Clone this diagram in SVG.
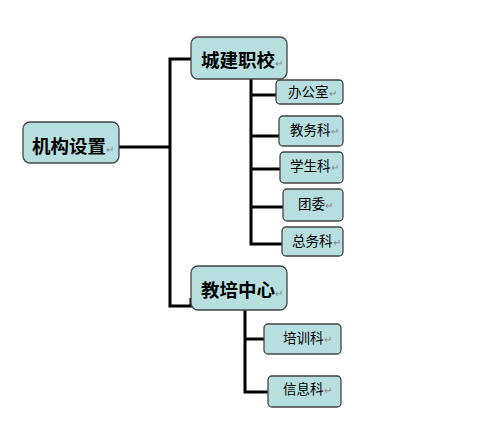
<svg xmlns="http://www.w3.org/2000/svg" width="488" height="425" viewBox="0 0 488 425">
<style>
.box{fill:#b7dfe0;stroke:#444;stroke-width:1.3}
.big{font-family:"Noto Sans CJK SC","Liberation Sans",sans-serif;font-size:18.5px;font-weight:bold;fill:#000}
.small{font-family:"Noto Sans CJK SC","Liberation Sans",sans-serif;font-size:13.5px;fill:#000}
.pm{fill:#888;font-weight:normal;font-size:10px}
.conn{fill:none;stroke:#000;stroke-width:3}
</style>
<rect width="488" height="425" fill="#fff"/>
<g id="connectors">
<polyline class="conn" points="119,147 170,147"/>
<polyline class="conn" points="191,59 170,59 170,306 191,306 191,298"/>
<polyline class="conn" points="251,79 251,244 282,244"/>
<line class="conn" x1="251" y1="95" x2="276" y2="95"/>
<line class="conn" x1="251" y1="136" x2="279" y2="136"/>
<line class="conn" x1="251" y1="169" x2="280" y2="169"/>
<line class="conn" x1="251" y1="207" x2="283" y2="207"/>
<polyline class="conn" points="245,310 245,392 268,392"/>
<line class="conn" x1="245" y1="339" x2="264" y2="339"/>
</g>
<g id="n-root"><rect class="box" x="23" y="122" width="96" height="41" rx="7"/><text class="big" x="32" y="153">机构设置<tspan class="pm">↵</tspan></text></g>
<g id="n-cj"><rect class="box" x="191" y="37" width="96" height="42" rx="7"/><text class="big" x="201" y="67">城建职校<tspan class="pm">↵</tspan></text></g>
<g id="n-jp"><rect class="box" x="191" y="266" width="96" height="44" rx="7"/><text class="big" x="201" y="297">教培中心<tspan class="pm">↵</tspan></text></g>
<g id="n-bgs"><rect class="box" x="276" y="80" width="67" height="24" rx="4"/><text class="small" x="288" y="97">办公室<tspan class="pm">↵</tspan></text></g>
<g id="n-jwk"><rect class="box" x="279" y="116" width="64" height="30" rx="4"/><text class="small" x="290" y="135">教务科<tspan class="pm">↵</tspan></text></g>
<g id="n-xsk"><rect class="box" x="280" y="152" width="63" height="31" rx="4"/><text class="small" x="290" y="171">学生科<tspan class="pm">↵</tspan></text></g>
<g id="n-tw"><rect class="box" x="283" y="189" width="60" height="32" rx="4"/><text class="small" x="298" y="209">团委<tspan class="pm">↵</tspan></text></g>
<g id="n-zwk"><rect class="box" x="282" y="227" width="61" height="29" rx="4"/><text class="small" x="292" y="246">总务科<tspan class="pm">↵</tspan></text></g>
<g id="n-pxk"><rect class="box" x="264" y="324" width="77" height="30" rx="4"/><text class="small" x="283" y="343">培训科<tspan class="pm">↵</tspan></text></g>
<g id="n-xxk"><rect class="box" x="268" y="376" width="73" height="31" rx="4"/><text class="small" x="283" y="394">信息科<tspan class="pm">↵</tspan></text></g>
</svg>
